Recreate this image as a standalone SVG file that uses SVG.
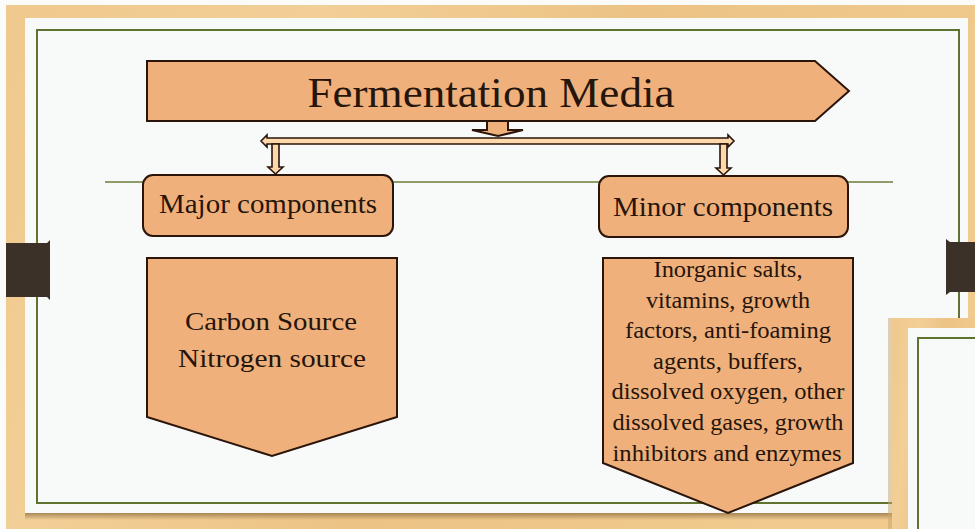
<svg xmlns="http://www.w3.org/2000/svg" width="975" height="529" viewBox="0 0 975 529">
  <defs>
    <linearGradient id="wood" x1="0" y1="0" x2="1" y2="0.3">
      <stop offset="0" stop-color="#efc98d"/>
      <stop offset="0.3" stop-color="#f2cf97"/>
      <stop offset="0.6" stop-color="#ecc385"/>
      <stop offset="1" stop-color="#f0ca8e"/>
    </linearGradient>
    <linearGradient id="shadowB" x1="0" y1="0" x2="0" y2="1">
      <stop offset="0" stop-color="#8a6a3a" stop-opacity="0.7"/>
      <stop offset="1" stop-color="#8a6a3a" stop-opacity="0"/>
    </linearGradient>
    <style>
      .slide { fill: #f8f9f9; }
      .border { fill: none; stroke: #5f7230; stroke-width: 2; }
      .shape { fill: #f0b07b; stroke: #2b140a; stroke-width: 2; }
      .conn { fill: #fcd8aa; stroke: #2b140a; stroke-width: 1.6; stroke-linejoin: miter; }
      .txt { font-family: "Liberation Serif", "DejaVu Serif", serif; fill: #25150b; text-anchor: middle; }
      .tab { fill: #3b3129; }
    </style>
  </defs>

  <!-- background -->
  <rect x="0" y="0" width="975" height="529" fill="#fbfbfa"/>
  <rect x="6" y="5" width="969" height="524" fill="url(#wood)"/>

  <!-- main slide -->
  <rect x="25" y="513" width="943" height="7" fill="url(#shadowB)"/>
  <rect class="slide" x="25" y="18" width="943" height="495"/>
  <rect class="border" x="37" y="30" width="922" height="473"/>
  <line x1="105" y1="182" x2="893" y2="182" stroke="#6b7d3a" stroke-width="1.5"/>

  <!-- binder tabs -->
  <path class="tab" d="M6,243 H47 L50,240 V300 L47,297 H6 Z"/>
  <path class="tab" d="M950,242 L946,239 V295 L950,292 H975 V242 Z"/>

  <!-- second slide overlapping at bottom right -->
  <rect x="888" y="318" width="4" height="211" fill="#c9a46a" opacity="0.5"/>
  <rect x="892" y="318" width="83" height="211" fill="url(#wood)"/>
  <rect class="slide" x="908" y="328" width="67" height="201"/>
  <path class="border" d="M976,338 H918 V530"/>

  <!-- connectors -->
  <g id="connectors">
    <polygon class="shape" points="487,121 508,121 508,130 523,130 498,136 472,130 487,130"/>
    <polygon class="conn" points="261,141 267,135 267,138 728,138 728,135 734,141 728,147 728,144 267,144 267,147"/>
    <polygon class="conn" points="272,144 279,144 279,167 283,167 275.5,174 268,167 272,167"/>
    <polygon class="conn" points="720,144 727,144 727,168 731,168 723.5,175 716,168 720,168"/>
  </g>

  <!-- title -->
  <g id="title">
    <polygon class="shape" points="147,61 815,61 849,91 815,121 147,121"/>
    <text class="txt" x="491" y="107" font-size="42" textLength="367" lengthAdjust="spacingAndGlyphs">Fermentation Media</text>
  </g>

  <!-- major components -->
  <g id="major">
    <rect class="shape" x="143" y="175" width="250" height="61" rx="10"/>
    <text class="txt" x="268" y="213" font-size="27" textLength="218" lengthAdjust="spacingAndGlyphs">Major components</text>
  </g>

  <!-- minor components -->
  <g id="minor">
    <rect class="shape" x="599" y="176" width="249" height="61" rx="10"/>
    <text class="txt" x="723" y="216" font-size="27" textLength="220" lengthAdjust="spacingAndGlyphs">Minor components</text>
  </g>

  <!-- major details -->
  <g id="major-detail">
    <polygon class="shape" points="147,258 397,258 397,417 272,456 147,417"/>
    <text class="txt" x="271" y="330" font-size="25" textLength="172" lengthAdjust="spacingAndGlyphs">Carbon Source</text>
    <text class="txt" x="272" y="367" font-size="25" textLength="188" lengthAdjust="spacingAndGlyphs">Nitrogen source</text>
  </g>

  <!-- minor details -->
  <g id="minor-detail">
    <polygon class="shape" points="603,258 853,258 853,463 728,513 603,463"/>
    <text class="txt" x="728" y="277" font-size="23" textLength="149" lengthAdjust="spacingAndGlyphs">Inorganic salts,</text>
    <text class="txt" x="728" y="308" font-size="23" textLength="164" lengthAdjust="spacingAndGlyphs">vitamins, growth</text>
    <text class="txt" x="728" y="338" font-size="23" textLength="206" lengthAdjust="spacingAndGlyphs">factors, anti-foaming</text>
    <text class="txt" x="728" y="369" font-size="23" textLength="150" lengthAdjust="spacingAndGlyphs">agents, buffers,</text>
    <text class="txt" x="728" y="399" font-size="23" textLength="233" lengthAdjust="spacingAndGlyphs">dissolved oxygen, other</text>
    <text class="txt" x="728" y="430" font-size="23" textLength="231" lengthAdjust="spacingAndGlyphs">dissolved gases, growth</text>
    <text class="txt" x="727" y="461" font-size="23" textLength="229" lengthAdjust="spacingAndGlyphs">inhibitors and enzymes</text>
  </g>
</svg>
